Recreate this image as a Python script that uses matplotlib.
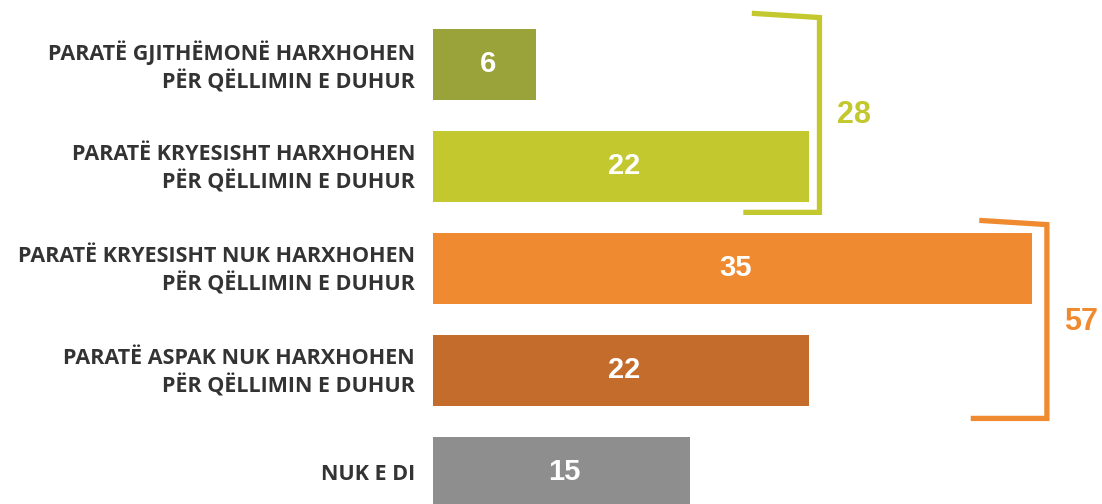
import matplotlib.pyplot as plt

labels = [
    "PARATË GJITHËMONË HARXHOHEN\nPËR QËLLIMIN E DUHUR",
    "PARATË KRYESISHT HARXHOHEN\nPËR QËLLIMIN E DUHUR",
    "PARATË KRYESISHT NUK HARXHOHEN\nPËR QËLLIMIN E DUHUR",
    "PARATË ASPAK NUK HARXHOHEN\nPËR QËLLIMIN E DUHUR",
    "NUK E DI",
]
values = [6, 22, 35, 22, 15]
colors = ["#9aa23a", "#c3c82e", "#ef8a30", "#c36c2b", "#8e8e8e"]

group_totals = [28, 57]
group_colors = ["#c3c82e", "#ef8a30"]


def draw_bracket(ax, x, y0, y1, color, total):
	# top arm is slightly slanted, like the original
	ax.plot([x - 3.8, x, x, x - 4.3], [y0 - 0.04, y0, y1, y1],
			color=color, lw=3.8, solid_joinstyle="miter", clip_on=False)
	ax.text(x + 2.0, (y0 + y1) / 2, str(total), color=color, fontsize=22,
			fontweight="bold", family="Liberation Sans", ha="center", va="center")


fig = plt.figure(figsize=(11.02, 5.04), dpi=100)
ax = fig.add_axes([433 / 1102, 0, 1 - 433 / 1102, 1])

y = list(range(len(values)))
ax.barh(y, values, height=0.7, color=colors)
ax.set_xlim(0, 669 / 17.1)
ax.set_ylim(4.309, -0.632)
ax.axis("off")

for i, v in enumerate(values):
	ax.text(v / 2 + 0.2, i, str(v), color="white", fontsize=21, fontweight="bold",
			family="Liberation Sans", ha="center", va="center")
	ax.text(-1.05, i + 0.02, labels[i], color="#333333", fontsize=15.5, fontweight="bold",
			family="Open Sans", ha="right", va="center", linespacing=1.3)

draw_bracket(ax, 22.6, -0.46, 1.45, group_colors[0], group_totals[0])
draw_bracket(ax, 35.9, 1.57, 3.47, group_colors[1], group_totals[1])

fig.savefig("out.png", dpi=100)
